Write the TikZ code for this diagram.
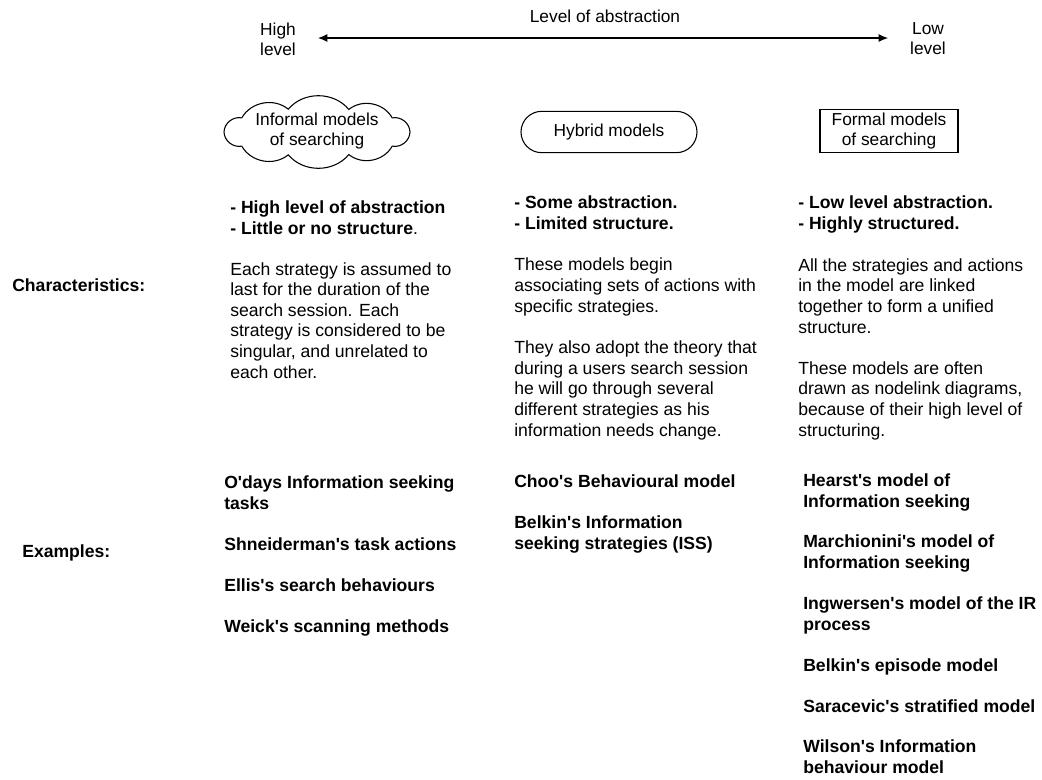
\documentclass[tikz,border=0pt]{standalone}
\usepackage{fontspec}
\setmainfont{Liberation Sans}
\usepackage{tikz}
\usetikzlibrary{arrows.meta}
\newcommand{\apo}{\textquotesingle}

\begin{document}
\begin{tikzpicture}[x=0.75pt,y=-0.75pt,
  txt/.style={anchor=base west,align=left,inner sep=0pt,font=\fontsize{13.2}{15.4}\selectfont},
  bld/.style={txt,font=\fontsize{13.2}{15.4}\selectfont\bfseries},
  lbl/.style={align=center,inner sep=0pt,font=\fontsize{13}{15}\selectfont}]
\useasboundingbox (0,0) rectangle (1042,779);

% scale of abstraction
\node[lbl] (abs) at (605,16) {Level of abstraction};
\node[lbl] (high) at (278,39) {High\\level};
\node[lbl] (low) at (928,39) {Low\\level};
\coordinate (arrL) at (318,38);
\coordinate (arrR) at (888,38);
\draw[line width=0.8pt,{Latex[length=7pt,width=6pt]}-{Latex[length=7pt,width=6pt]}] (arrL) -- (arrR);

% model types (text positions are the baselines of the last lines)
\node[lbl] (informal) at (317,131) {Informal models\\of searching};
\draw[line width=0.8pt] (410,132)
  \foreach \a in {36,70,108,144,180,216,252,290,324,360} {
    to[bend right=50] ({317+93*cos(\a)},{132-24*sin(\a)})
  } -- cycle;
\node[lbl, draw, line width=0.8pt, rounded corners=15.5pt, minimum width=132pt, minimum height=31pt] (hybrid) at (609,132) {Hybrid models};
\node[lbl, draw, line width=0.8pt, minimum width=103.5pt, minimum height=32pt] (formal) at (889,131) {Formal models\\of searching};

% characteristics
\node[bld] (charlbl) at (12,291) {Characteristics:};
\node[bld] (c1a) at (230,234) {- High level of abstraction\\- Little or no structure{\mdseries .}};
\node[txt] (c1b) at (230,378) {Each strategy is assumed to\\last for the duration of the\\search session. Each\\strategy is considered to be\\singular, and unrelated to\\each other.};
\node[bld] (c2a) at (514,229) {- Some abstraction.\\- Limited structure.};
\node[txt] (c2b) at (514,312) {These models begin\\associating sets of actions with\\specific strategies.};
\node[txt] (c2c) at (514,436) {They also adopt the theory that\\during a users search session\\he will go through several\\different strategies as his\\information needs change.};
\node[bld] (c3a) at (798,229) {- Low level abstraction.\\- Highly structured.};
\node[txt] (c3b) at (798,333) {All the strategies and actions\\in the model are linked\\together to form a unified\\structure.};
\node[txt] (c3c) at (798,436) {These models are often\\drawn as nodelink diagrams,\\because of their high level of\\structuring.};

% examples
\node[bld] (exlbl) at (22,557) {Examples:};
\node[bld] (e1a) at (224,509) {O\apo days Information seeking\\tasks};
\node[bld] (e1b) at (224,550) {Shneiderman\apo s task actions};
\node[bld] (e1c) at (224,591) {Ellis\apo s search behaviours};
\node[bld] (e1d) at (224,632) {Weick\apo s scanning methods};
\node[bld] (e2a) at (514,487) {Choo\apo s Behavioural model};
\node[bld] (e2b) at (514,549) {Belkin\apo s Information\\seeking strategies (ISS)};
\node[bld] (e3a) at (803,507) {Hearst\apo s model of\\Information seeking};
\node[bld] (e3b) at (803,568) {Marchionini\apo s model of\\Information seeking};
\node[bld] (e3c) at (803,630) {Ingwersen\apo s model of the IR\\process};
\node[bld] (e3d) at (803,671) {Belkin\apo s episode model};
\node[bld] (e3e) at (803,712) {Saracevic\apo s stratified model};
\node[bld] (e3f) at (803,773) {Wilson\apo s Information\\behaviour model};
\end{tikzpicture}
\end{document}
